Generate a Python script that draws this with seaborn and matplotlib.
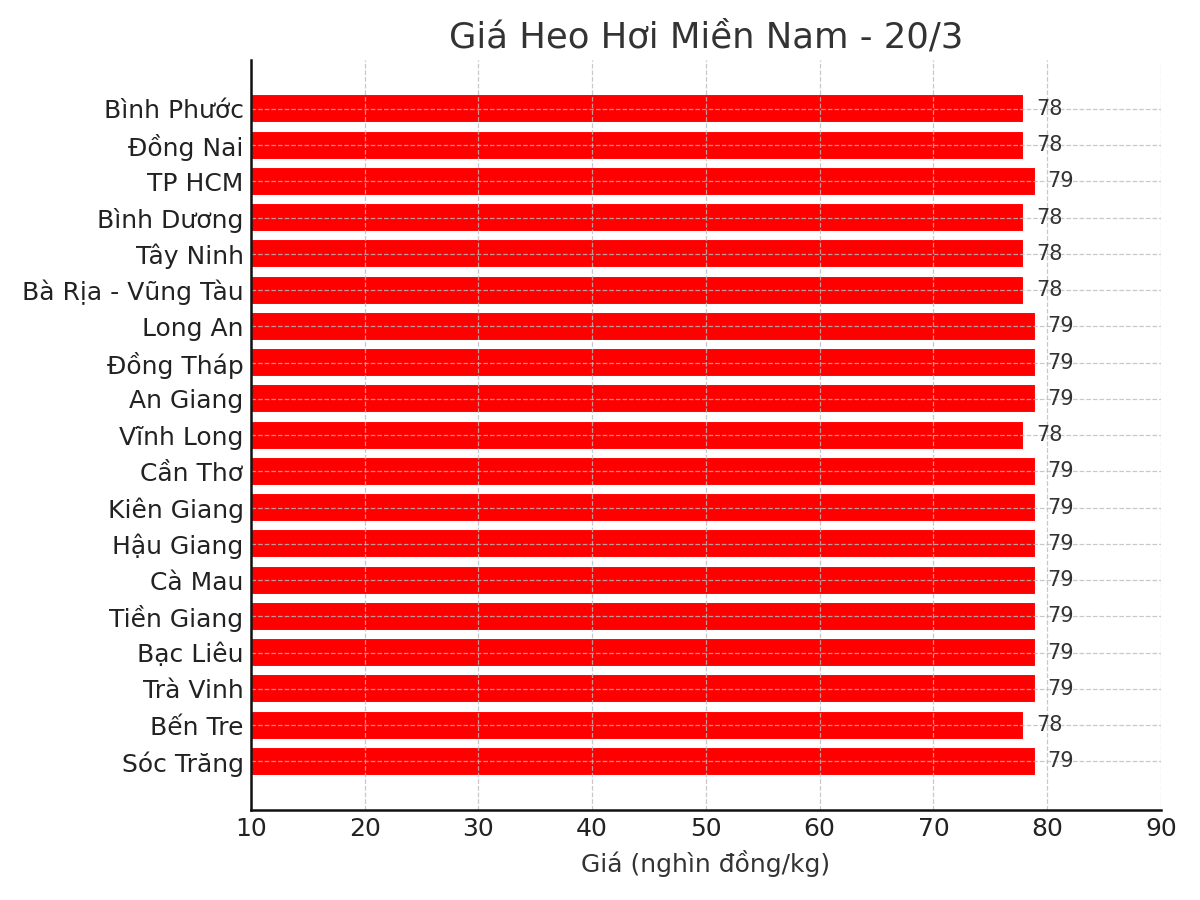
import numpy as np
import pandas as pd
import seaborn as sns
import matplotlib
matplotlib.use("Agg")
import matplotlib.pyplot as plt

# du lieu doc tu bieu do
provinces = ['Bình Phước', 'Đồng Nai', 'TP HCM', 'Bình Dương', 'Tây Ninh',
             'Bà Rịa - Vũng Tàu', 'Long An', 'Đồng Tháp', 'An Giang', 'Vĩnh Long',
             'Cần Thơ', 'Kiên Giang', 'Hậu Giang', 'Cà Mau', 'Tiền Giang',
             'Bạc Liêu', 'Trà Vinh', 'Bến Tre', 'Sóc Trăng']
prices = [78, 78, 79, 78, 78, 78, 79, 79, 79, 78,
          79, 79, 79, 79, 79, 79, 79, 78, 79]
x_ticks = [10, 20, 30, 40, 50, 60, 70, 80, 90]

df = pd.DataFrame({'Tinh': provinces, 'Gia': prices})

sns.set_theme(style="white")
plt.rcParams['font.family'] = ['DejaVu Sans']

fig, ax = plt.subplots(figsize=(8, 6), dpi=150)
fig.subplots_adjust(left=0.209, right=0.9675, top=0.933, bottom=0.1)

sns.barplot(data=df, x='Gia', y='Tinh', orient='h', color='#ff0000',
            saturation=1, width=0.8, ax=ax)

n = len(provinces)
ax.set_ylim(n - 1 + 1.34, -1.34)
ax.set_xlim(10, 90)
ax.set_xticks(x_ticks)

ax.set_axisbelow(False)
ax.grid(True, linestyle='--', color='#bbbbbb', linewidth=0.6, alpha=0.8)

for i, v in enumerate(prices):
    ax.text(v + 1, i, str(v), va='center', ha='left', fontsize=10, color='#333333')

ax.set_title('Giá Heo Hơi Miền Nam - 20/3', fontsize=17, color='#333333')
ax.set_xlabel('Giá (nghìn đồng/kg)', fontsize=12, color='#333333')
ax.set_ylabel('')
ax.tick_params(axis='both', labelsize=12, length=0, colors='#222222')

sns.despine(ax=ax)
for s in ['left', 'bottom']:
    ax.spines[s].set_color('#111111')
    ax.spines[s].set_linewidth(1.2)
    ax.spines[s].set_zorder(5)

fig.savefig('out.png', dpi=150)
